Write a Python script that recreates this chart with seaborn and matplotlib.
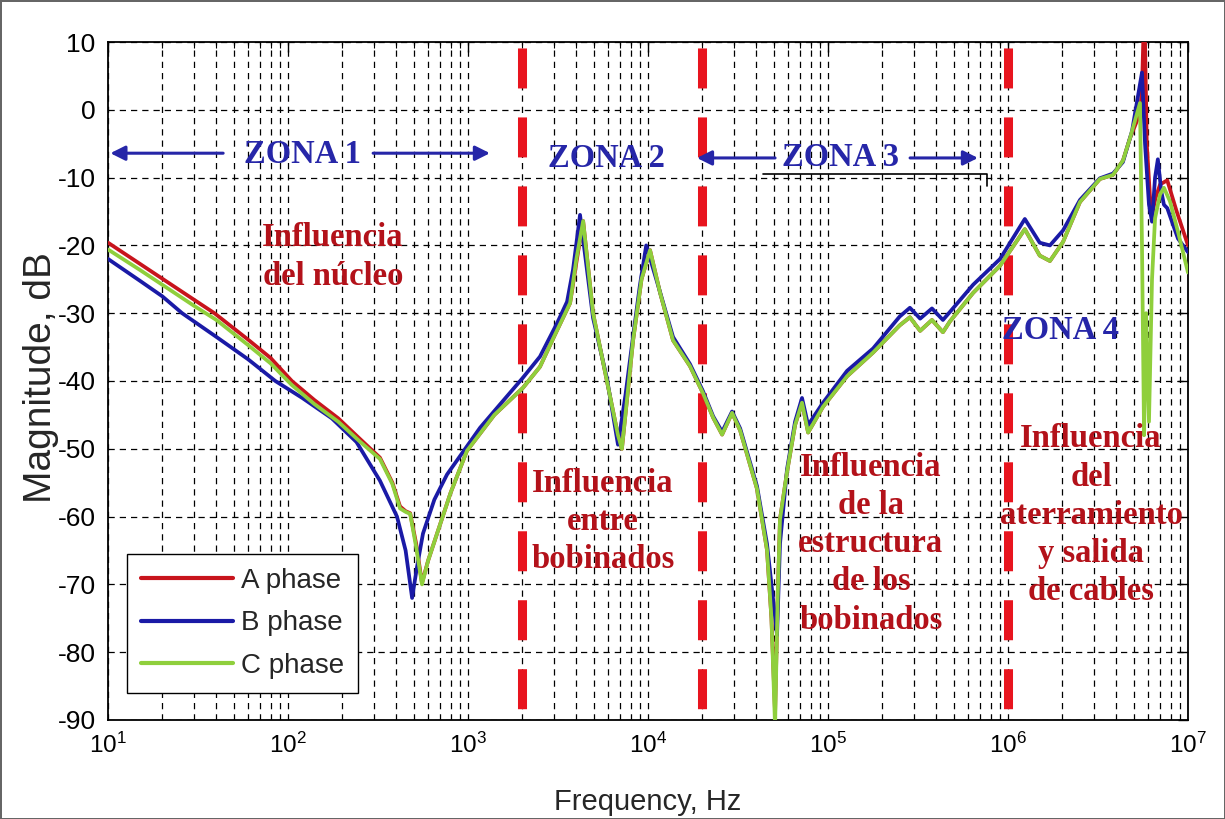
import numpy as np
import pandas as pd
import matplotlib
matplotlib.use("Agg")
import matplotlib.pyplot as plt
import seaborn as sns

# Frequency response magnitude (dB) of the three transformer phases
freq_a = [10, 15, 20, 30, 39, 60, 80, 105, 140, 190, 250, 324, 380, 419, 450, 477,
          515, 555, 600, 673, 800, 986, 1400, 2020, 2510, 3000, 3690, 4000, 4360,
          4950, 5910, 6810, 7160, 8260, 9200, 10260, 11670, 13770, 17100, 20200,
          23000, 25800, 29300, 32500, 40300, 45800, 48500, 50800, 52500, 54100,
          59200, 65600, 71700, 77500, 93800, 127600, 178000, 250000, 285000,
          325000, 378000, 435000, 476000, 640000, 903000, 1.24e6, 1.5e6, 1.71e6,
          2.02e6, 2.51e6, 3.24e6, 3.83e6, 4.35e6, 4.76e6, 5.41e6, 5.55e6, 5.72e6,
          5.9e6, 6.14e6, 6.31e6, 6.6e6, 7.0e6, 7.67e6, 8.63e6, 1e7]
mag_a = [-19.6, -22.7, -24.9, -28.0, -30.0, -33.9, -36.6, -40.0, -42.8, -45.5,
         -48.5, -51.3, -55.0, -58.5, -59.2, -59.5, -64.0, -69.8, -66.5, -62.5,
         -56.5, -50.3, -45.0, -41.0, -37.9, -33.5, -28.5, -22.5, -16.4,
         -30.0, -40.0, -48.0, -50.0, -34.0, -25.0, -20.7, -27.0, -34.0, -37.8,
         -41.8, -45.4, -47.9, -44.7, -47.3, -55.9, -64.9, -75.0, -89.0, -72.0,
         -60.4, -53.4, -46.5, -43.2, -47.6, -43.8, -39.3, -35.8, -31.8, -30.6,
         -32.6, -31.0, -32.8, -31.2, -27.0, -23.0, -17.6, -21.5, -22.3, -19.5,
         -13.6, -10.2, -9.6, -7.5, -4.2, -0.5, 3.0, 16.0, -5.0, -12.6, -15.5,
         -13.0, -11.0, -10.4, -14.9, -20.0]

freq_b = [10, 15, 20, 25.8, 40, 60, 85, 120, 175, 240, 324, 403, 450, 489, 520,
          562, 650, 764, 1166, 1500, 2020, 2510, 3120, 3550, 3830, 4190, 4500,
          4950, 5910, 6810, 7500, 8260, 9000, 9770, 11670, 13770, 17100, 20200,
          23000, 25800, 29300, 32500, 40300, 45800, 52100, 54100, 59200, 65600,
          71700, 77500, 93800, 127600, 178000, 250000, 285000, 325000, 378000,
          435000, 476000, 640000, 903000, 1.24e6, 1.5e6, 1.71e6, 2.02e6, 2.51e6,
          3.24e6, 3.83e6, 4.35e6, 4.89e6, 5.55e6, 5.77e6, 6.07e6, 6.31e6, 6.56e6,
          6.8e6, 7.1e6, 7.35e6, 7.67e6, 8.27e6, 8.8e6, 1e7]
mag_b = [-22.0, -25.2, -27.5, -30.0, -33.5, -36.8, -40.0, -42.5, -45.5, -49.0,
         -54.7, -60.0, -65.0, -72.0, -67.5, -62.5, -57.5, -53.8, -46.9, -43.5,
         -39.5, -36.4, -31.5, -28.3, -23.6, -15.5, -22.0, -30.7, -39.6, -49.4,
         -42.0, -33.4, -26.0, -20.0, -26.9, -33.5, -37.5, -41.5, -45.2, -47.5,
         -44.5, -47.0, -55.5, -64.0, -77.5, -64.0, -53.0, -46.0, -42.5, -46.5,
         -43.2, -38.5, -35.2, -30.5, -29.2, -30.8, -29.3, -31.0, -29.8, -25.8,
         -22.0, -16.1, -19.6, -20.0, -17.8, -13.3, -10.1, -9.4, -7.7, -3.1, 5.5,
         -5.0, -14.0, -16.5, -10.0, -7.3, -12.0, -14.0, -14.5, -17.0, -19.0, -21.0]

freq_c = [10, 15, 20, 30, 40, 60, 80, 105, 140, 190, 250, 324, 380, 419, 450, 477,
          515, 555, 600, 673, 800, 986, 1400, 2020, 2510, 3000, 3690, 4000, 4360,
          4950, 5910, 6810, 7160, 8260, 9200, 10260, 11670, 13770, 17100, 20200,
          23000, 25800, 29300, 32500, 40300, 45800, 48500, 50800, 52500, 54100,
          59200, 65600, 71700, 77500, 93800, 127600, 178000, 250000, 285000,
          325000, 378000, 435000, 476000, 640000, 903000, 1.24e6, 1.5e6, 1.71e6,
          2.02e6, 2.51e6, 3.24e6, 3.83e6, 4.35e6, 4.76e6, 5.41e6, 5.55e6, 5.70e6,
          5.85e6, 6.07e6, 6.31e6, 6.56e6, 6.99e6, 7.35e6, 7.94e6, 8.8e6, 1e7]
mag_c = [-20.6, -23.6, -25.8, -28.9, -31.0, -34.7, -37.4, -40.6, -43.4, -46.0,
         -48.9, -51.5, -55.2, -58.8, -59.3, -59.6, -64.5, -70.0, -66.5, -62.5,
         -56.5, -50.3, -45.0, -41.0, -37.9, -33.5, -28.5, -22.0, -16.4,
         -30.0, -40.0, -48.0, -50.0, -34.0, -25.0, -20.7, -27.0, -34.0, -37.8,
         -41.8, -45.4, -47.9, -44.7, -47.3, -55.9, -64.9, -75.0, -91.0, -72.0,
         -60.4, -53.4, -46.5, -43.2, -47.6, -43.8, -39.3, -35.8, -31.8, -30.6,
         -32.6, -31.0, -32.8, -31.2, -27.0, -23.0, -17.6, -21.5, -22.3, -19.5,
         -13.6, -10.2, -9.6, -7.5, -4.2, 1.0, -20.0, -48.0, -30.0, -46.0, -25.0,
         -16.0, -12.5, -11.5, -13.5, -18.0, -24.0]

phase_labels = ["A phase", "B phase", "C phase"]
phase_colors = ["#c8141c", "#1a1aa6", "#8fcf3c"]

# Zone boundaries (Hz)
zone_limits = [2e3, 2e4, 1e6]

sns.set_style("white")
plt.rcParams["font.family"] = ["Liberation Sans", "DejaVu Sans"]
plt.rcParams["axes.unicode_minus"] = False
plt.rcParams["mathtext.fontset"] = "custom"
plt.rcParams["mathtext.rm"] = "Liberation Sans"
plt.rcParams["mathtext.it"] = "Liberation Sans"

fig = plt.figure(figsize=(12.25, 8.19), dpi=100, facecolor="white",
                 linewidth=2, edgecolor="#666666")
ax = fig.add_axes([0.0882, 0.1209, 0.8816, 0.8278])

for fr, mg, lab, col in zip([freq_a, freq_b, freq_c], [mag_a, mag_b, mag_c],
                            phase_labels, phase_colors):
    sns.lineplot(x=fr, y=mg, ax=ax, color=col, lw=2.7, label=lab,
                 sort=False, estimator=None, zorder=4)

ax.set_xscale("log")
ax.set_xlim(10, 1e7)
ax.set_ylim(-90, 10)
ax.set_yticks(np.arange(-90, 11, 10))
ax.xaxis.set_minor_locator(matplotlib.ticker.LogLocator(base=10, subs=np.arange(2, 10)))
ax.yaxis.set_minor_locator(matplotlib.ticker.NullLocator())

grid_style = dict(color="black", lw=0.9, ls=(0, (5, 4)))
ax.grid(which="major", axis="both", **grid_style)
ax.grid(which="minor", axis="x", **grid_style)
ax.set_axisbelow(True)

ax.tick_params(which="both", direction="in", top=True, right=True, colors="black")
ax.tick_params(which="major", length=7, width=1)
ax.tick_params(which="minor", length=4, width=0.8)
ax.tick_params(axis="x", which="major", labelsize=17.5, pad=9)
ax.tick_params(axis="y", which="major", labelsize=19, pad=9)
for s in ax.spines.values():
    s.set_color("black")
    s.set_linewidth(1.3)

ax.set_xlabel("Frequency, Hz", fontsize=21, labelpad=22)
ax.set_ylabel("Magnitude, dB", fontsize=28)
ax.yaxis.set_label_coords(-0.045, 0.505)

# Red dashed zone separators
for fz in zone_limits:
    ax.plot([fz, fz], [10, -90], color="#e8141e", lw=6.5,
            ls=(6.98, (4.43, 3.21)), solid_capstyle="butt",
            dash_capstyle="butt", zorder=3)

serif = ["Liberation Serif", "DejaVu Serif"]
zone_color = "#2626a8"
note_color = "#b3121a"
txt = dict(family=serif, weight="bold", fontsize=23.5, ha="center", va="center", zorder=6)

ax.text(121, -6.6, "ZONA 1", color=zone_color, **txt)
ax.text(5845, -7.2, "ZONA 2", color=zone_color, **txt)
ax.text(116700, -7.1, "ZONA 3", color=zone_color, **txt)
ax.text(1.95e6, -32.6, "ZONA 4", color=zone_color, **txt)

arrow = dict(arrowstyle="-|>", color=zone_color, lw=2.2, mutation_scale=22,
             shrinkA=0, shrinkB=0)
ax.annotate("", xy=(10.3, -6.4), xytext=(43.6, -6.4), arrowprops=arrow, zorder=6)
ax.annotate("", xy=(1324, -6.4), xytext=(297, -6.4), arrowprops=arrow, zorder=6)
ax.annotate("", xy=(18700, -7.1), xytext=(50800, -7.1), arrowprops=arrow, zorder=6)
ax.annotate("", xy=(681000, -7.1), xytext=(285700, -7.1), arrowprops=arrow, zorder=6)

# bracket line below the zone 3 heading
ax.plot([43500, 760000, 760000], [-9.5, -9.5, -11.2], color="black", lw=1.2, zorder=3)

ax.text(178, -21.7, "Influencia\ndel núcleo", color=note_color, linespacing=1.3, **txt)
ax.text(5620, -60.7, "Influencia\nentre\nbobinados", color=note_color, linespacing=1.3, **txt)
ax.text(173000, -64.0, "Influencia\nde la\nestructura\nde los\nbobinados",
        color=note_color, linespacing=1.3, **txt)
ax.text(2.89e6, -59.8, "Influencia\ndel\naterramiento\ny salida\nde cables",
        color=note_color, linespacing=1.3, **txt)

leg = ax.legend(loc="lower left", bbox_to_anchor=(0.0176, 0.04), borderaxespad=0,
                fontsize=20, handlelength=3.3, handletextpad=0.3, labelspacing=0.6,
                fancybox=False, framealpha=1, edgecolor="black", borderpad=0.5)
leg.get_frame().set_linewidth(1.0)
leg.set_zorder(7)
for h in leg.get_lines():
    h.set_linewidth(3)

fig.savefig("out.png", dpi=100, facecolor="white", edgecolor="#666666")
